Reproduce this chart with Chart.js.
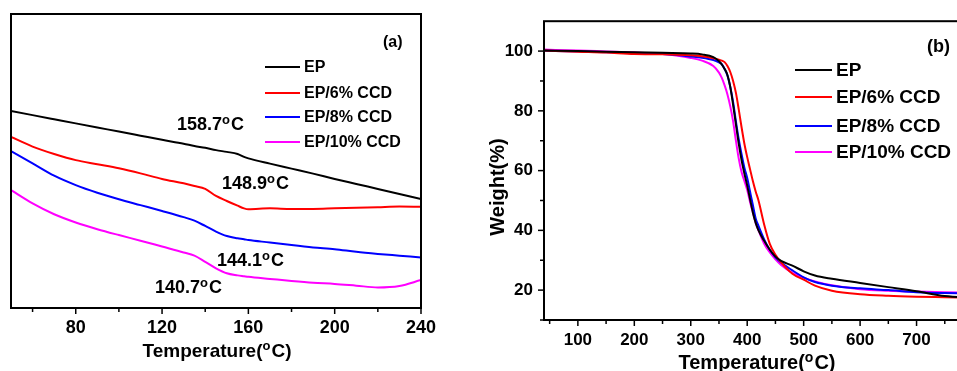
<!DOCTYPE html>
<html>
<head>
<meta charset="utf-8">
<script src="https://cdn.jsdelivr.net/npm/chart.js@4/dist/chart.umd.min.js"></script>
<style>
  html, body { margin: 0; padding: 0; background: #fff; overflow: hidden; width: 957px; height: 371px; }
  #wrapA { position: absolute; left: 0; top: 0; width: 480px; height: 371px; }
  #wrapB { position: absolute; left: 480px; top: 0; width: 520px; height: 371px; }
</style>
</head>
<body>
<div id="wrapA"><canvas id="dscChart" width="480" height="371"></canvas></div>
<div id="wrapB"><canvas id="tgaChart" width="520" height="371"></canvas></div>
<script>
// series shared by both panels
const seriesNames = ["EP", "EP/6% CCD", "EP/8% CCD", "EP/10% CCD"];
const seriesColors = ["#000000", "#ff0000", "#0000ff", "#ff00ff"];

// (a) DSC curves, heat flow in arbitrary units
const dscTemp = [50, 60, 70, 80, 90, 100, 110, 120, 130, 135, 140, 145, 150, 155, 158, 160, 170, 180, 190, 200, 210, 220, 230, 240];
const dscEP = [67.0, 65.6, 64.2, 62.8, 61.4, 60.0, 58.6, 57.2, 55.9, 55.1, 54.5, 53.7, 53.1, 52.4, 51.4, 50.9, 49.1, 47.4, 45.7, 43.9, 42.2, 40.5, 38.8, 37.1];
const dscCCD6 = [58.2, 54.9, 52.4, 50.3, 48.9, 47.5, 45.8, 43.9, 42.4, 41.5, 40.5, 38.1, 36.4, 34.8, 33.9, 33.6, 33.9, 33.7, 33.7, 33.9, 34.1, 34.3, 34.5, 34.4];
const dscCCD8 = [53.4, 49.2, 45.0, 41.8, 39.2, 37.0, 35.0, 33.0, 30.9, 29.7, 27.9, 26.0, 24.5, 23.7, 23.4, 23.1, 22.3, 21.4, 20.6, 20.0, 19.1, 18.4, 17.8, 17.2];
const dscCCD10 = [40.1, 35.6, 31.9, 29.1, 26.8, 24.8, 22.9, 20.9, 18.9, 17.8, 15.7, 13.5, 11.8, 11.1, 10.8, 10.6, 9.9, 9.2, 8.6, 8.2, 7.6, 7.0, 7.5, 9.5];
const dscTicks = [80, 120, 160, 200, 240];
const dscMinorTicks = [60, 100, 140, 180, 220];
const tgLabels = ["158.7", "148.9", "144.1", "140.7"];

// (b) TGA curves, weight %
const tgaTemp = [40, 100, 150, 200, 250, 300, 320, 340, 350, 355, 360, 365, 370, 375, 380, 385, 390, 395, 400, 405, 410, 415, 420, 430, 440, 450, 460, 480, 500, 520, 550, 600, 650, 700, 750, 800];
const tgaEP = [100.2, 100.0, 99.8, 99.6, 99.4, 99.2, 98.9, 98.0, 96.6, 95.5, 94.0, 92.0, 88.0, 82.0, 75.5, 69.0, 63.5, 59.0, 55.0, 50.5, 46.0, 42.5, 40.0, 36.5, 33.5, 31.2, 29.8, 28.2, 26.3, 24.9, 23.8, 22.4, 21.0, 19.6, 18.0, 17.4];
const tgaCCD6 = [100.2, 99.8, 99.5, 99.0, 98.9, 98.6, 98.3, 97.6, 97.1, 96.8, 96.3, 95.0, 93.0, 90.0, 86.0, 80.5, 74.5, 69.0, 64.5, 60.5, 56.5, 53.0, 50.0, 42.0, 35.5, 31.8, 29.3, 25.5, 23.5, 21.5, 19.8, 18.6, 18.1, 17.8, 17.6, 17.4];
const tgaCCD8 = [100.1, 99.9, 99.6, 99.3, 99.0, 98.2, 97.8, 97.0, 96.2, 95.6, 94.0, 91.8, 88.0, 83.0, 76.5, 70.5, 65.5, 61.0, 57.5, 53.0, 48.5, 44.0, 41.5, 37.0, 33.5, 31.0, 29.2, 26.6, 24.3, 22.7, 21.5, 20.6, 20.0, 19.3, 19.0, 18.9];
const tgaCCD10 = [100.5, 100.2, 99.9, 99.6, 99.0, 97.7, 96.8, 95.0, 92.8, 91.0, 88.5, 85.5, 81.5, 76.5, 70.0, 64.0, 59.5, 56.5, 53.5, 49.5, 46.0, 42.5, 40.0, 35.5, 32.6, 30.3, 28.4, 25.8, 24.2, 22.9, 21.6, 20.3, 19.8, 19.5, 19.3, 19.1];
const tgaXTicks = [100, 200, 300, 400, 500, 600, 700];
const tgaXMinor = [50, 150, 250, 350, 450, 550, 650, 750];
const tgaYTicks = [20, 40, 60, 80, 100];
const tgaYMinor = [10, 30, 50, 70, 90];

const FONT = "'Liberation Sans', Arial, sans-serif";

function toPoints(xs, ys) {
  return xs.map((x, i) => ({ x: x, y: ys[i] }));
}

function makeDatasets(xs, list) {
  return list.map((ys, i) => ({
    label: seriesNames[i],
    data: toPoints(xs, ys),
    borderColor: seriesColors[i],
    backgroundColor: seriesColors[i],
    borderWidth: 2,
    pointRadius: 0,
    cubicInterpolationMode: "monotone",
  }));
}

// text with a raised small "o" for the degree sign
function drawDeg(ctx, before, after, x, y, size, align) {
  const big = "bold " + size + "px " + FONT;
  const small = "bold " + Math.round(size * 0.7) + "px " + FONT;
  ctx.font = big;
  const w1 = ctx.measureText(before).width;
  const w3 = ctx.measureText(after).width;
  ctx.font = small;
  const w2 = ctx.measureText("o").width + 1;
  let left = x;
  if (align === "center") left = x - (w1 + w2 + w3) / 2;
  ctx.textAlign = "left";
  ctx.textBaseline = "alphabetic";
  ctx.fillStyle = "#000";
  ctx.font = big;
  ctx.fillText(before, left, y);
  ctx.font = small;
  ctx.fillText("o", left + w1, y - size * 0.36);
  ctx.font = big;
  ctx.fillText(after, left + w1 + w2, y);
}

function drawTicks(chart, scaleId, values, len) {
  const ctx = chart.ctx;
  const s = chart.scales[scaleId];
  const a = chart.chartArea;
  ctx.save();
  ctx.strokeStyle = "#000";
  ctx.lineWidth = 1.5;
  values.forEach((v) => {
    const p = s.getPixelForValue(v);
    ctx.beginPath();
    if (s.isHorizontal()) {
      ctx.moveTo(p, a.bottom);
      ctx.lineTo(p, a.bottom + len);
    } else {
      ctx.moveTo(a.left, p);
      ctx.lineTo(a.left - len, p);
    }
    ctx.stroke();
  });
  ctx.restore();
}

function drawLegend(chart, x0, x1, rows, size) {
  const ctx = chart.ctx;
  ctx.save();
  chart.data.datasets.forEach((ds, i) => {
    ctx.strokeStyle = ds.borderColor;
    ctx.lineWidth = 2;
    ctx.beginPath();
    ctx.moveTo(x0, rows[i]);
    ctx.lineTo(x1, rows[i]);
    ctx.stroke();
    ctx.fillStyle = "#000";
    ctx.font = "bold " + size + "px " + FONT;
    ctx.textAlign = "left";
    ctx.textBaseline = "middle";
    ctx.fillText(ds.label, x1 + 4, rows[i] + 1);
  });
  ctx.restore();
}

function drawFrame(chart) {
  const a = chart.chartArea;
  const ctx = chart.ctx;
  ctx.save();
  ctx.strokeStyle = "#000";
  ctx.lineWidth = 2;
  ctx.strokeRect(a.left, a.top, a.right - a.left, a.bottom - a.top);
  ctx.restore();
}

const dscDecor = {
  id: "dscDecor",
  afterDraw(chart) {
    const ctx = chart.ctx;
    drawFrame(chart);
    drawTicks(chart, "x", dscTicks, 6);
    drawTicks(chart, "x", dscMinorTicks, 4);
    drawLegend(chart, 265, 300, [67, 93, 117, 142], 16);
    ctx.save();
    ctx.fillStyle = "#000";
    ctx.font = "bold 16px " + FONT;
    ctx.textAlign = "left";
    ctx.textBaseline = "alphabetic";
    ctx.fillText("(a)", 383, 47);
    drawDeg(ctx, tgLabels[0], "C", 177, 130, 18, "left");
    drawDeg(ctx, tgLabels[1], "C", 222, 189, 18, "left");
    drawDeg(ctx, tgLabels[2], "C", 217, 266, 18, "left");
    drawDeg(ctx, tgLabels[3], "C", 155, 293, 18, "left");
    drawDeg(ctx, "Temperature(", "C)", 217, 357, 19, "center");
    ctx.restore();
  },
};

const tgaDecor = {
  id: "tgaDecor",
  afterDraw(chart) {
    const ctx = chart.ctx;
    drawFrame(chart);
    drawTicks(chart, "x", tgaXTicks, 6);
    drawTicks(chart, "x", tgaXMinor, 4);
    drawTicks(chart, "y", tgaYTicks, 6);
    drawTicks(chart, "y", tgaYMinor, 4);
    drawLegend(chart, 315, 352, [70, 97, 126, 152], 19);
    ctx.save();
    ctx.fillStyle = "#000";
    ctx.font = "bold 18px " + FONT;
    ctx.textAlign = "left";
    ctx.textBaseline = "alphabetic";
    ctx.fillText("(b)", 447, 52);
    drawDeg(ctx, "Temperature(", "C)", 277, 369, 20, "center");
    ctx.translate(18, 187);
    ctx.rotate(-Math.PI / 2);
    ctx.font = "bold 20px " + FONT;
    ctx.textAlign = "center";
    ctx.textBaseline = "middle";
    ctx.fillText("Weight(%)", 0, 0);
    ctx.restore();
  },
};

new Chart(document.getElementById("dscChart"), {
  type: "line",
  data: { datasets: makeDatasets(dscTemp, [dscEP, dscCCD6, dscCCD8, dscCCD10]) },
  options: {
    responsive: false,
    animation: false,
    layout: { padding: { left: 11, top: 14, right: 59, bottom: 0 } },
    plugins: { legend: { display: false }, tooltip: { enabled: false } },
    scales: {
      x: {
        type: "linear",
        min: 50,
        max: 240,
        afterBuildTicks: (s) => { s.ticks = dscTicks.map((v) => ({ value: v })); },
        afterFit: (s) => { s.height = 63; },
        grid: { display: false, drawTicks: false },
        border: { display: false },
        ticks: { color: "#000", padding: 9, maxRotation: 0, font: { family: FONT, size: 18, weight: "bold" } },
      },
      y: { display: false, min: 0, max: 100 },
    },
  },
  plugins: [dscDecor],
});

new Chart(document.getElementById("tgaChart"), {
  type: "line",
  data: { datasets: makeDatasets(tgaTemp, [tgaEP, tgaCCD6, tgaCCD8, tgaCCD10]) },
  options: {
    responsive: false,
    animation: false,
    layout: { padding: { left: 0, top: 17, right: 27, bottom: 0 } },
    plugins: { legend: { display: false }, tooltip: { enabled: false } },
    scales: {
      x: {
        type: "linear",
        min: 40,
        max: 800,
        afterBuildTicks: (s) => { s.ticks = tgaXTicks.map((v) => ({ value: v })); },
        afterFit: (s) => { s.height = 51; },
        grid: { display: false, drawTicks: false },
        border: { display: false },
        ticks: { color: "#000", padding: 10, maxRotation: 0, font: { family: FONT, size: 17, weight: "bold" } },
      },
      y: {
        min: 10,
        max: 110,
        afterBuildTicks: (s) => { s.ticks = tgaYTicks.map((v) => ({ value: v })); },
        afterFit: (s) => { s.width = 64; },
        grid: { display: false, drawTicks: false },
        border: { display: false },
        ticks: { color: "#000", padding: 11, font: { family: FONT, size: 17, weight: "bold" } },
      },
    },
  },
  plugins: [tgaDecor],
});
</script>
</body>
</html>
